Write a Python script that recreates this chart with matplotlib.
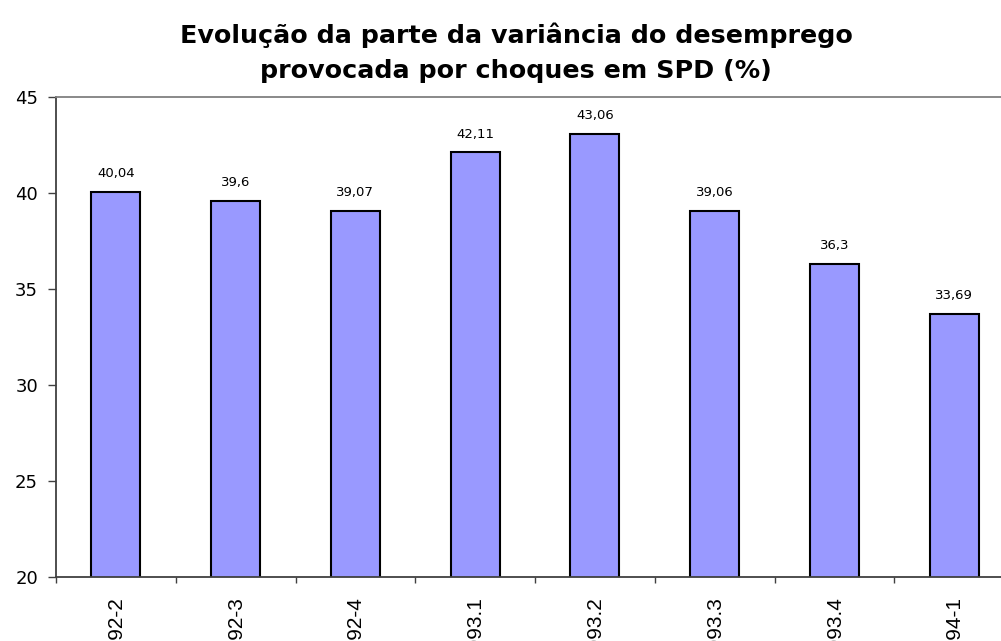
import numpy as np
import matplotlib
matplotlib.use("Agg")
import matplotlib.pyplot as plt

# data
periods = ["1992-2", "1992-3", "1992-4", "1993.1", "1993.2", "1993.3", "1993.4", "1994-1"]
share = [40.04, 39.6, 39.07, 42.11, 43.06, 39.06, 36.3, 33.69]

plt.rcParams['font.family'] = ['DejaVu Sans']

fig = plt.figure(figsize=(10.01, 6.41), dpi=100)
ax = fig.add_axes([56/1001, 1-577/641, (1014-56)/1001, (577-97)/641])

x = np.arange(len(periods))
ax.bar(x, share, width=0.41, color='#9999FF', edgecolor='black', linewidth=1.5)

# value labels with decimal comma
for xi, v in zip(x, share):
    ax.annotate(str(v).replace('.', ','), (xi, v), xytext=(0, 8.5), textcoords='offset points',
                ha='center', va='bottom', fontsize=9.5)

ax.set_xlim(-0.5, len(periods) - 0.5)
ax.set_ylim(20, 45)
ax.set_yticks([20, 25, 30, 35, 40, 45])
ax.tick_params(axis='y', labelsize=13, length=6, width=1, color='#404040', pad=7)

ax.set_xticks(x)
ax.set_xticklabels(periods, rotation=90, fontsize=15, va='top', family='Liberation Sans')
ax.tick_params(axis='x', which='major', length=0, pad=14)
ax.set_xticks(np.arange(len(periods) + 1) - 0.5, minor=True)
ax.tick_params(axis='x', which='minor', length=4.5, width=1, color='#404040')

ax.spines['left'].set_color('#404040')
ax.spines['bottom'].set_color('#404040')
ax.spines['top'].set_color('#808080')
ax.spines['right'].set_color('#808080')
for s in ax.spines.values():
    s.set_linewidth(1.3)

ax.set_title("Evolução da parte da variância do desemprego\nprovocada por choques em SPD (%)",
             fontsize=18.3, fontweight='bold', pad=14, linespacing=1.55,
             x=(516 - 56) / 958)

fig.savefig("out.png", dpi=100)
